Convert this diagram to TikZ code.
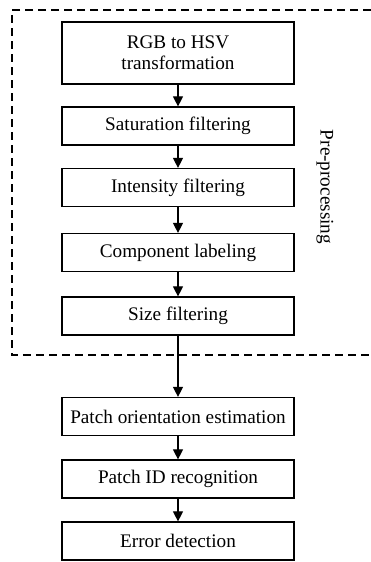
\documentclass[tikz,border=0pt]{standalone}
\usepackage{fontspec}
\setmainfont{Liberation Serif}
\usetikzlibrary{positioning,arrows.meta}

\begin{document}
\begin{tikzpicture}[x=1pt, y=-1pt,
    font=\fontsize{19.2}{21}\selectfont, >={Triangle[length=10pt,width=10pt]},
    stage/.style={draw, line width=1.2pt, align=center, minimum width=232pt,
                  minimum height=38pt, inner sep=2pt},
    arr/.style={->, line width=1.1pt},
    frame/.style={line width=1.3pt, dash pattern=on 8pt off 5pt},
  ]
  \useasboundingbox (0,0) rectangle (371,562);

  % ---- pre-processing stages
  \node[stage, minimum height=62pt] (rgb) at (178, 53) {RGB to HSV\\ transformation};
  \node[stage] (sat) at (178, 126) {Saturation filtering};
  \node[stage] (int) at (178, 187.5) {Intensity filtering};
  \node[stage] (comp) at (178, 252.5) {Component labeling};
  \node[stage] (size) at (178, 316) {Size filtering};

  % ---- recognition stages
  \node[stage] (poe) at (178, 416.5) {Patch orientation estimation};
  \node[stage] (pid) at (178, 479) {Patch ID recognition};
  \node[stage] (err) at (178, 541) {Error detection};

  \draw[arr] (rgb) -- (sat);
  \draw[arr] (sat) -- (int);
  \draw[arr] (int) -- (comp);
  \draw[arr] (comp) -- (size);
  \draw[arr] (size) -- (poe);
  \draw[arr] (poe) -- (pid);
  \draw[arr] (pid) -- (err);

  % the pre-processing frame, open to the right
  \coordinate (ftop) at (371, 10);
  \coordinate (fbot) at (371, 355);
  \draw[frame] (ftop) -| (12, 355) -- (fbot);
  \node[rotate=-90] (pre) at (325, 187) {Pre-processing};
\end{tikzpicture}
\end{document}
